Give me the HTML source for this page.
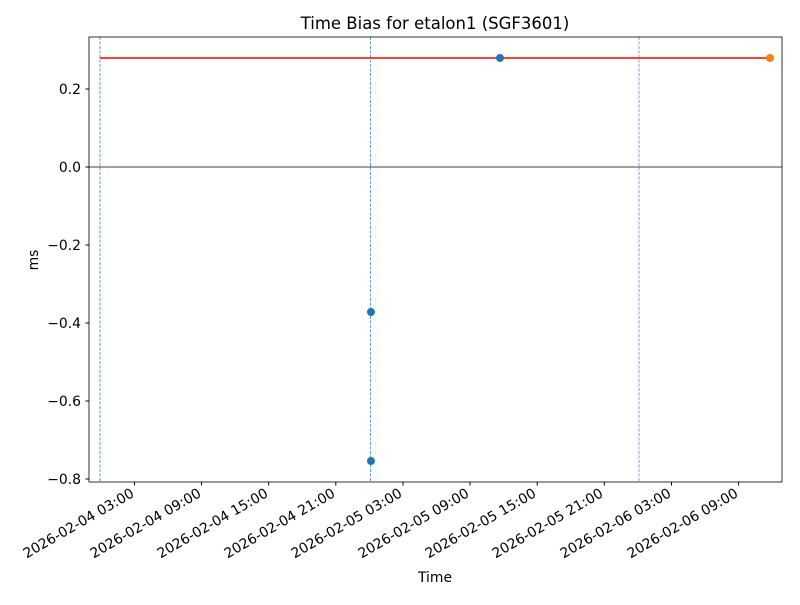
<!DOCTYPE html>
<html><head><style>body{margin:0;background:#fff}</style></head><body>
<svg width="800" height="600" xmlns="http://www.w3.org/2000/svg" font-family="DejaVu Sans, Liberation Sans, sans-serif">
<rect width="800" height="600" fill="#fff"/>
<text x="435" y="29" font-size="16.5" text-anchor="middle">Time Bias for etalon1 (SGF3601)</text>
<line x1="100" y1="37" x2="100" y2="482" stroke="#1f77b4" stroke-width="0.7" stroke-dasharray="3,1.5"/>
<line x1="370.5" y1="37" x2="370.5" y2="482" stroke="#1f77b4" stroke-width="0.7" stroke-dasharray="3,1.5"/>
<line x1="639" y1="37" x2="639" y2="482" stroke="#4a7fa8" stroke-width="0.7" stroke-dasharray="3,1.5"/>
<line x1="89" y1="167" x2="782" y2="167" stroke="#000" stroke-width="0.8"/>
<line x1="100" y1="58" x2="770" y2="58" stroke="#ff0000" stroke-width="1.6"/>
<circle cx="500" cy="58" r="4" fill="#1f77b4"/>
<circle cx="371" cy="312" r="4" fill="#1f77b4"/>
<circle cx="371" cy="461" r="4" fill="#1f77b4"/>
<circle cx="770" cy="58" r="4" fill="#ff7f0e"/>
<rect x="89" y="37" width="693" height="445" fill="none" stroke="#000" stroke-width="0.8"/>
<g font-size="13.9" text-anchor="end">
<line x1="85.5" y1="89" x2="89" y2="89" stroke="#000"/><text x="81" y="94">0.2</text>
<line x1="85.5" y1="167" x2="89" y2="167" stroke="#000"/><text x="81" y="172">0.0</text>
<line x1="85.5" y1="245" x2="89" y2="245" stroke="#000"/><text x="81" y="250">−0.2</text>
<line x1="85.5" y1="323" x2="89" y2="323" stroke="#000"/><text x="81" y="328">−0.4</text>
<line x1="85.5" y1="401" x2="89" y2="401" stroke="#000"/><text x="81" y="406">−0.6</text>
<line x1="85.5" y1="479" x2="89" y2="479" stroke="#000"/><text x="81" y="484">−0.8</text>
</g>
<text x="38" y="260" font-size="13.9" text-anchor="middle" transform="rotate(-90 38 260)">ms</text>
<text x="435" y="582" font-size="13.9" text-anchor="middle">Time</text>
<g stroke="#000">
<line x1="134.5" y1="482" x2="134.5" y2="485.5"/><line x1="201.5" y1="482" x2="201.5" y2="485.5"/><line x1="268.7" y1="482" x2="268.7" y2="485.5"/><line x1="335.8" y1="482" x2="335.8" y2="485.5"/><line x1="403" y1="482" x2="403" y2="485.5"/><line x1="470" y1="482" x2="470" y2="485.5"/><line x1="537.2" y1="482" x2="537.2" y2="485.5"/><line x1="604.3" y1="482" x2="604.3" y2="485.5"/><line x1="671.5" y1="482" x2="671.5" y2="485.5"/><line x1="738.6" y1="482" x2="738.6" y2="485.5"/>
</g>
<g font-size="13.9" text-anchor="end">
<text transform="translate(135,496) rotate(-30)">2026-02-04 03:00</text>
<text transform="translate(202,496) rotate(-30)">2026-02-04 09:00</text>
<text transform="translate(269,496) rotate(-30)">2026-02-04 15:00</text>
<text transform="translate(336,496) rotate(-30)">2026-02-04 21:00</text>
<text transform="translate(403,496) rotate(-30)">2026-02-05 03:00</text>
<text transform="translate(470,496) rotate(-30)">2026-02-05 09:00</text>
<text transform="translate(537,496) rotate(-30)">2026-02-05 15:00</text>
<text transform="translate(604,496) rotate(-30)">2026-02-05 21:00</text>
<text transform="translate(672,496) rotate(-30)">2026-02-06 03:00</text>
<text transform="translate(739,496) rotate(-30)">2026-02-06 09:00</text>
</g>
</svg>
</body></html>
